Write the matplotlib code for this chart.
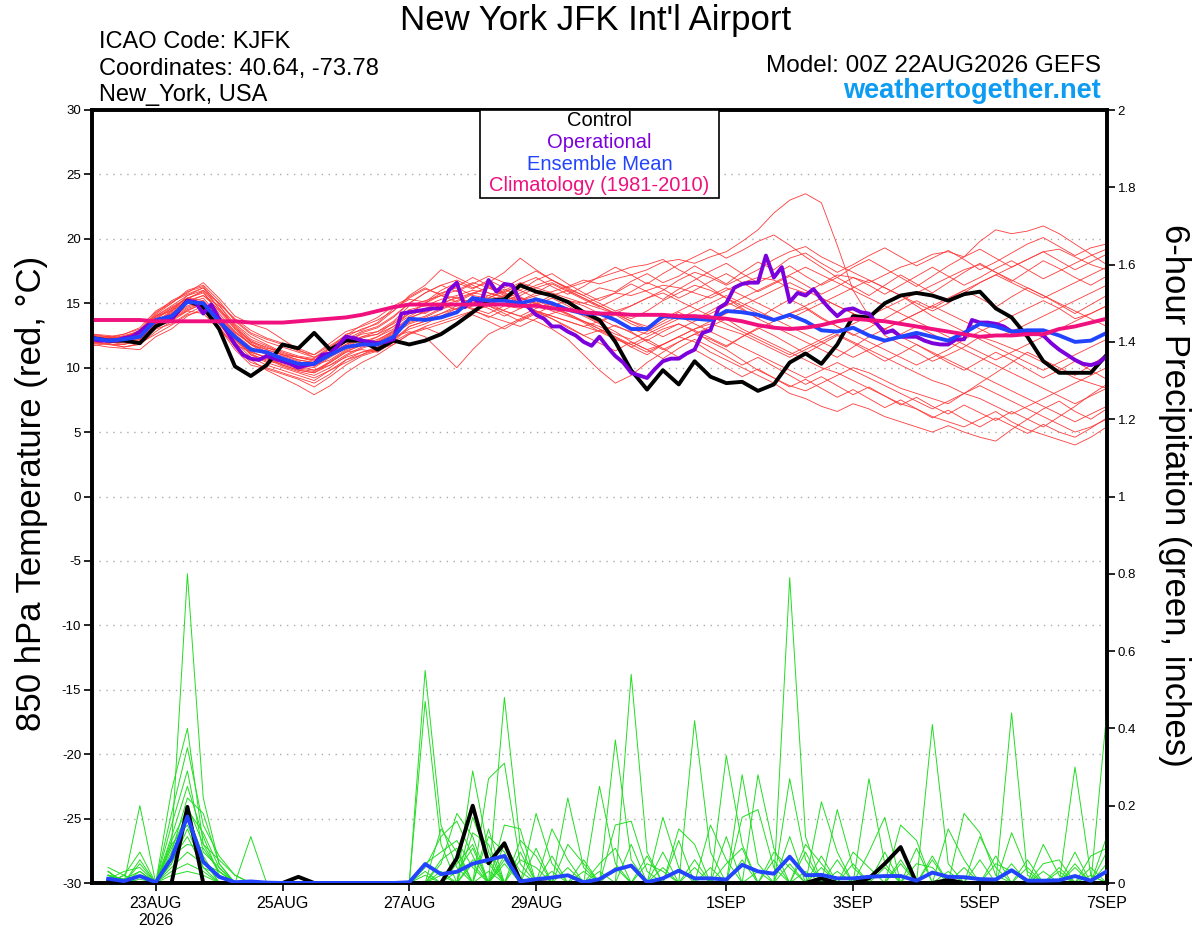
import numpy as np
import matplotlib
matplotlib.use("Agg")
import matplotlib.pyplot as plt
from matplotlib.patches import Rectangle

plt.rcParams["font.family"] = ["Liberation Sans", "DejaVu Sans"]
plt.rcParams["axes.unicode_minus"] = False

# x = days after 00Z 22AUG2026, 6-hourly (temperature) / 3-hourly (operational)
date_ticks = [1, 3, 5, 7, 10, 12, 14, 16]
date_labels = ["23AUG\n2026", "25AUG", "27AUG", "29AUG", "1SEP", "3SEP", "5SEP", "7SEP"]

# 850 hPa temperature (C), 6-hourly from 00Z 22AUG
control_t = [12.3, 12.1, 12.1, 11.9, 13.2, 13.8, 15.2, 14.7, 13.0, 10.1, 9.35, 10.2, 11.8,
             11.5, 12.7, 11.4, 12.1, 12.1, 11.4, 12.1, 11.8, 12.1, 12.6, 13.4, 14.3, 15.2,
             15.3, 16.4, 15.9, 15.6, 15.1, 14.3, 13.7, 12.0, 9.8, 8.3, 9.8, 8.7, 10.5,
             9.3, 8.8, 8.9, 8.2, 8.7, 10.4, 11.1, 10.3, 11.8, 14.0, 13.9, 15.0, 15.6,
             15.8, 15.6, 15.2, 15.7, 15.9, 14.6, 13.9, 12.4, 10.5, 9.6, 9.6, 9.6, 11.0]
mean_t = [12.3, 12.1, 12.2, 12.4, 13.7, 14.0, 15.1, 15.0, 13.6, 12.4, 11.4, 11.2, 10.7,
          10.3, 10.3, 11.0, 11.6, 11.8, 11.8, 12.4, 13.8, 13.7, 13.9, 14.3, 15.4, 15.2,
          15.2, 15.0, 15.3, 15.0, 14.5, 14.2, 14.2, 13.7, 13.0, 13.0, 14.0, 13.9, 13.8,
          13.7, 14.4, 14.3, 14.1, 13.7, 14.1, 13.6, 12.9, 12.8, 13.1, 12.5, 12.1, 12.4,
          12.7, 12.4, 12.1, 12.7, 13.4, 13.2, 12.8, 12.9, 12.9, 12.5, 12.0, 12.1, 12.7]
clim_t = [13.7, 13.7, 13.7, 13.7, 13.6, 13.6, 13.6, 13.6, 13.6, 13.6, 13.5, 13.5, 13.5,
          13.6, 13.7, 13.8, 13.9, 14.1, 14.4, 14.7, 14.9, 14.9, 14.9, 14.9, 14.9, 14.9,
          14.9, 14.8, 14.8, 14.6, 14.5, 14.3, 14.2, 14.2, 14.1, 14.1, 14.1, 14.0, 14.0,
          13.9, 13.8, 13.6, 13.3, 13.1, 13.0, 13.1, 13.3, 13.6, 13.8, 13.7, 13.6, 13.4,
          13.2, 13.0, 12.8, 12.6, 12.4, 12.5, 12.5, 12.6, 12.6, 13.0, 13.2, 13.5, 13.8]
# operational run, 3-hourly
oper_t = [12.2, 12.1, 12.1, 12.1, 12.3, 12.4, 12.8, 13.3, 13.6, 13.7, 13.8, 14.5, 15.2, 15.1, 14.2, 14.9,
          13.8, 12.8, 11.8, 11.0, 10.7, 10.6, 10.9, 10.7, 10.5, 10.3, 10.0, 10.2, 10.3, 11.0, 11.1, 11.7,
          12.4, 12.3, 12.1, 12.0, 11.9, 12.0, 12.2, 14.2, 14.3, 14.4, 14.5, 14.6, 14.6, 16.0, 16.6, 14.7,
          15.4, 15.0, 16.8, 15.9, 16.5, 16.4, 15.1, 14.7, 14.1, 13.8, 13.2, 13.2, 12.8, 12.5, 12.0, 11.7,
          12.4, 11.6, 10.9, 10.4, 9.6, 9.4, 9.2, 9.9, 10.5, 10.7, 10.7, 11.1, 11.4, 12.7, 12.9, 14.6,
          15.0, 16.2, 16.5, 16.6, 16.6, 18.7, 17.0, 17.8, 15.1, 15.8, 15.6, 16.1, 15.3, 14.6, 14.0, 14.5,
          14.6, 14.3, 14.2, 13.4, 12.7, 12.9, 12.4, 12.4, 12.4, 12.1, 11.9, 11.8, 11.8, 12.2, 12.2, 13.7,
          13.5, 13.5, 13.4, 13.2, 12.8, 12.8, 12.8, 12.7, 12.5, 11.9, 11.4, 11.0, 10.6, 10.3, 10.2, 10.4,
          10.9]

# ensemble members (red)
t_m01 = [12.0, 11.9, 12.1, 12.6, 13.9, 14.6, 15.4, 15.9, 14.2, 12.8, 11.8, 11.0, 10.6,
         10.2, 10.0, 10.8, 11.5, 12.0, 12.4, 13.0, 14.5, 14.8, 15.3, 15.6, 16.0, 15.8,
         15.5, 15.2, 15.6, 15.9, 16.3, 16.8, 16.5, 16.9, 17.2, 17.6, 18.2, 18.4, 18.1,
         18.6, 19.0, 19.8, 20.7, 22.0, 23.0, 23.5, 22.8, 19.5, 16.0, 14.0, 12.5, 11.8,
         11.2, 10.5, 11.0, 11.6, 12.4, 12.0, 11.5, 11.0, 10.4, 9.8, 9.2, 8.8, 8.4]
t_m02 = [12.4, 12.2, 12.0, 12.3, 13.5, 14.2, 15.0, 14.6, 13.2, 11.6, 10.4, 10.0, 9.6,
         9.2, 8.8, 9.5, 10.6, 11.2, 11.6, 12.2, 13.0, 13.4, 14.0, 14.6, 15.0, 15.2,
         14.8, 14.6, 15.0, 14.6, 14.2, 13.6, 13.0, 12.4, 11.6, 11.0, 11.8, 12.4, 12.0,
         11.2, 10.6, 10.0, 9.4, 8.8, 8.0, 7.6, 7.0, 6.6, 7.2, 6.8, 6.2, 5.8,
         5.4, 5.0, 5.5, 5.0, 4.6, 4.3, 5.2, 6.0, 6.8, 7.4, 6.6, 6.0, 6.8]
t_m03 = [12.1, 12.0, 12.3, 12.5, 14.0, 14.8, 15.6, 16.2, 14.6, 13.2, 12.0, 11.6, 11.0,
         10.6, 10.4, 11.2, 12.0, 12.6, 12.8, 13.4, 14.2, 15.0, 15.8, 16.2, 15.6, 15.4,
         15.9, 16.4, 16.0, 15.6, 15.2, 15.0, 15.4, 15.8, 15.6, 16.0, 16.4, 16.2, 15.8,
         15.4, 16.0, 16.6, 17.0, 16.8, 16.2, 15.8, 16.5, 17.2, 17.0, 16.6, 17.2, 17.8,
         18.2, 18.8, 19.0, 18.6, 19.8, 20.7, 20.4, 20.6, 21.0, 20.4, 19.6, 18.8, 18.0]
t_m04 = [12.5, 12.4, 12.2, 12.6, 13.2, 13.8, 14.4, 14.2, 13.0, 11.8, 11.2, 10.8, 10.2,
         9.8, 9.6, 10.4, 11.2, 11.4, 11.2, 12.0, 13.2, 13.6, 14.2, 14.8, 15.4, 15.0,
         14.4, 14.0, 13.6, 13.0, 12.2, 11.0, 9.8, 8.8, 9.4, 10.4, 11.2, 12.0, 12.6,
         12.2, 11.6, 12.4, 13.0, 13.6, 14.2, 14.6, 13.8, 13.2, 12.6, 12.0, 11.4, 10.8,
         10.2, 10.8, 11.4, 12.2, 12.8, 13.4, 14.0, 14.6, 15.2, 14.6, 13.8, 14.2, 14.8]
t_m05 = [12.0, 11.8, 11.6, 11.8, 12.8, 13.6, 14.4, 15.0, 13.8, 12.4, 11.0, 10.4, 10.0,
         9.6, 9.2, 9.8, 10.6, 11.0, 11.6, 12.4, 12.8, 12.4, 11.2, 10.0, 11.4, 12.6,
         13.2, 13.8, 14.4, 14.0, 13.6, 13.2, 12.8, 12.2, 11.8, 12.4, 13.0, 13.4, 12.8,
         12.0, 11.4, 10.6, 9.8, 9.2, 8.6, 8.2, 8.8, 9.4, 10.0, 9.6, 9.0, 8.4,
         8.0, 7.6, 7.2, 8.0, 8.8, 9.6, 10.4, 11.2, 10.6, 10.0, 9.4, 10.2, 11.0]
t_m06 = [12.2, 12.3, 12.4, 12.8, 14.2, 15.2, 15.8, 16.6, 15.4, 14.0, 13.4, 13.0, 12.2,
         11.4, 10.8, 11.4, 12.2, 12.8, 13.2, 14.0, 15.0, 15.8, 16.4, 16.8, 16.2, 16.6,
         17.4, 18.5, 17.6, 16.8, 16.2, 16.6, 17.0, 17.4, 17.8, 18.0, 18.4, 17.6, 17.0,
         16.2, 15.4, 14.6, 13.8, 13.2, 12.6, 12.0, 11.4, 10.8, 11.6, 12.4, 13.0, 13.6,
         14.2, 14.8, 14.2, 13.6, 13.0, 12.4, 12.8, 13.4, 14.0, 14.6, 15.2, 15.8, 16.4]
t_m07 = [11.8, 11.6, 11.5, 11.4, 12.4, 13.0, 14.0, 14.6, 13.4, 11.8, 10.6, 9.8, 9.2,
         8.6, 7.9, 8.6, 9.6, 10.4, 11.0, 11.8, 12.6, 13.2, 13.6, 14.0, 14.4, 14.0,
         13.6, 13.2, 13.8, 14.2, 14.6, 14.2, 13.8, 13.2, 12.8, 12.0, 11.4, 12.0, 12.6,
         13.2, 13.8, 13.0, 12.4, 11.8, 11.2, 10.6, 10.0, 9.6, 9.0, 8.4, 7.8, 7.2,
         6.8, 6.2, 5.8, 5.4, 6.0, 6.6, 5.8, 5.2, 4.8, 4.4, 4.0, 4.6, 5.4]
t_m08 = [12.6, 12.5, 12.3, 12.9, 14.3, 15.0, 16.0, 16.4, 15.2, 13.6, 12.6, 12.0, 11.6,
         11.2, 10.8, 11.6, 12.4, 13.0, 13.4, 14.4, 15.6, 16.4, 17.6, 17.0, 16.4, 15.8,
         15.4, 15.8, 16.4, 16.8, 16.2, 15.6, 15.0, 14.4, 14.8, 15.4, 16.0, 16.8, 17.4,
         17.0, 16.4, 17.0, 17.6, 18.4, 19.0, 19.4, 18.6, 18.0, 17.4, 16.8, 16.2, 15.6,
         15.0, 14.4, 15.0, 15.8, 16.6, 17.2, 17.8, 18.4, 19.0, 19.2, 18.6, 18.0, 17.6]
t_m09 = [12.3, 12.1, 11.9, 12.0, 13.0, 13.4, 14.2, 14.8, 13.6, 12.2, 11.0, 10.6, 10.4,
         10.2, 9.8, 10.2, 10.8, 11.2, 11.4, 11.8, 12.6, 13.0, 13.4, 13.8, 14.4, 14.8,
         14.4, 14.0, 14.6, 15.0, 14.6, 14.0, 13.4, 12.8, 12.0, 11.4, 11.8, 12.4, 13.0,
         13.4, 13.0, 12.6, 12.0, 11.4, 10.8, 11.4, 12.0, 12.6, 12.0, 11.4, 10.8, 10.2,
         9.6, 9.0, 8.6, 8.0, 7.6, 7.0, 6.4, 7.0, 7.6, 8.2, 8.8, 9.4, 10.0]
t_m10 = [12.2, 12.4, 12.6, 13.0, 14.0, 14.4, 15.2, 15.6, 14.8, 13.4, 12.4, 11.8, 11.2,
         10.8, 10.6, 11.0, 11.6, 12.2, 12.0, 12.8, 13.8, 14.4, 14.8, 15.2, 15.8, 16.2,
         15.8, 15.4, 15.0, 15.6, 16.0, 15.4, 14.8, 14.2, 13.6, 13.2, 13.8, 14.4, 15.0,
         15.6, 16.2, 15.6, 15.0, 14.4, 13.8, 14.4, 15.0, 15.6, 16.2, 16.8, 16.2, 15.6,
         14.8, 14.0, 13.4, 12.8, 12.2, 11.6, 11.0, 10.4, 9.8, 10.4, 11.0, 11.6, 12.2]
t_m11 = [12.0, 12.1, 12.0, 12.2, 13.4, 14.0, 14.8, 15.2, 13.8, 12.6, 11.6, 11.0, 10.8,
         10.4, 10.2, 10.6, 11.4, 11.8, 12.2, 12.8, 13.6, 14.0, 14.6, 15.0, 14.6, 14.2,
         14.8, 15.4, 15.0, 14.4, 14.0, 13.6, 13.2, 12.6, 12.2, 12.8, 13.4, 14.0, 13.4,
         12.8, 12.2, 11.6, 11.0, 10.4, 9.8, 9.2, 9.8, 10.4, 9.8, 9.2, 8.6, 8.0,
         7.4, 6.8, 7.4, 8.0, 8.6, 8.0, 7.4, 6.8, 6.2, 5.6, 5.0, 5.4, 6.0]
t_m12 = [12.4, 12.3, 12.4, 12.7, 13.8, 14.6, 15.4, 15.8, 14.4, 13.0, 12.0, 11.4, 11.0,
         10.8, 10.6, 11.2, 11.8, 12.4, 12.8, 13.6, 14.8, 15.2, 15.6, 15.4, 15.0, 15.4,
         16.0, 16.6, 16.2, 15.8, 15.4, 15.0, 14.6, 14.2, 13.8, 14.4, 15.2, 15.8, 16.4,
         16.0, 15.4, 14.8, 14.2, 13.6, 14.2, 14.8, 15.4, 14.8, 14.2, 13.6, 13.0, 13.6,
         14.2, 14.8, 15.4, 16.0, 16.6, 17.2, 16.6, 16.0, 15.4, 16.0, 16.6, 17.2, 17.8]
t_m13 = [11.9, 11.8, 11.8, 12.1, 13.1, 13.8, 14.6, 15.0, 13.6, 12.2, 11.2, 10.8, 10.2,
         9.8, 9.6, 10.2, 11.0, 11.6, 12.0, 12.6, 13.4, 13.8, 14.2, 14.6, 15.2, 14.8,
         14.2, 13.6, 14.2, 14.8, 15.2, 14.8, 14.2, 13.6, 13.0, 12.6, 13.2, 13.8, 14.4,
         15.0, 15.6, 15.0, 14.4, 13.8, 13.2, 12.6, 12.0, 11.4, 10.8, 11.4, 12.0, 12.6,
         13.2, 12.6, 12.0, 11.4, 10.8, 10.2, 9.6, 9.0, 8.4, 7.8, 7.2, 7.8, 8.4]
t_m14 = [12.2, 12.0, 12.2, 12.4, 13.6, 14.2, 15.0, 15.4, 14.0, 12.8, 11.8, 11.2, 10.6,
         10.0, 9.8, 10.4, 11.2, 11.8, 12.4, 13.2, 14.2, 15.0, 15.6, 16.0, 16.6, 16.2,
         15.6, 15.0, 14.4, 14.0, 13.6, 13.2, 13.6, 14.2, 14.8, 15.4, 15.8, 15.2, 14.6,
         14.0, 13.4, 12.8, 12.2, 11.6, 11.0, 11.6, 12.2, 12.8, 13.4, 14.0, 14.6, 15.2,
         15.8, 16.4, 17.0, 17.6, 18.0, 17.4, 16.8, 16.2, 15.6, 15.0, 14.4, 13.8, 13.2]
t_m15 = [12.6, 12.4, 12.2, 12.4, 13.4, 14.4, 15.2, 15.0, 13.4, 12.0, 10.8, 10.2, 9.8,
         9.4, 9.0, 9.8, 10.4, 11.0, 11.4, 12.2, 13.2, 13.6, 14.0, 14.4, 14.8, 15.2,
         15.6, 16.0, 15.4, 14.8, 14.2, 13.6, 13.0, 12.4, 11.8, 11.2, 11.8, 12.4, 13.0,
         13.6, 14.2, 14.8, 15.4, 16.0, 16.6, 16.0, 15.4, 14.8, 14.2, 13.6, 13.0, 12.4,
         11.8, 11.2, 10.6, 10.0, 9.4, 8.8, 8.2, 7.6, 7.0, 6.4, 5.8, 6.4, 7.0]
t_m16 = [12.1, 12.2, 12.3, 12.6, 13.6, 14.4, 15.6, 16.0, 14.6, 13.0, 11.8, 11.4, 11.0,
         10.6, 10.4, 11.0, 11.8, 12.4, 12.6, 13.2, 14.0, 14.6, 15.0, 15.4, 15.8, 15.6,
         15.2, 15.6, 16.2, 16.6, 16.0, 15.4, 14.8, 14.2, 13.6, 13.0, 12.4, 13.0, 13.6,
         14.2, 14.8, 15.4, 16.0, 16.6, 17.2, 17.8, 17.2, 16.6, 16.0, 15.4, 14.8, 14.2,
         13.6, 13.0, 12.4, 11.8, 11.2, 10.6, 11.2, 11.8, 12.4, 13.0, 13.6, 14.2, 14.8]
t_m17 = [12.3, 12.0, 12.4, 12.9, 14.1, 15.0, 15.9, 16.3, 14.9, 13.1, 12.1, 11.5, 11.3,
         10.9, 10.7, 11.5, 12.6, 12.9, 13.5, 14.6, 15.3, 15.1, 16.0, 16.6, 16.1, 16.8,
         16.2, 16.9, 17.5, 16.8, 16.1, 15.6, 16.2, 15.9, 16.7, 17.3, 16.6, 17.1, 17.9,
         17.2, 16.5, 17.4, 18.2, 17.6, 18.5, 18.9, 18.1, 17.4, 18.0, 18.7, 19.3, 18.6,
         17.9, 18.5, 19.1, 18.4, 17.6, 18.2, 18.9, 19.6, 20.1, 19.4, 18.7, 19.3, 19.6]
t_m18 = [12.1, 12.2, 12.0, 12.5, 13.5, 14.3, 15.1, 15.6, 14.5, 13.3, 12.2, 11.7, 11.1,
         10.8, 10.5, 11.1, 12.0, 12.7, 13.1, 13.9, 15.0, 15.8, 16.4, 15.9, 16.5, 17.1,
         16.6, 16.0, 16.8, 17.3, 16.5, 15.8, 15.2, 15.8, 16.5, 15.9, 15.3, 16.1, 16.8,
         17.5, 18.1, 17.3, 16.6, 17.2, 17.9, 17.1, 16.4, 17.0, 17.8, 18.4, 17.7, 17.0,
         16.3, 17.1, 17.9, 18.6, 19.2, 18.5, 17.8, 18.4, 19.0, 18.3, 17.6, 18.2, 18.8]
t_m19 = [11.7, 11.9, 11.6, 11.9, 12.6, 13.3, 14.1, 14.4, 13.1, 11.4, 10.2, 9.9, 9.5,
         9.1, 8.5, 9.3, 10.2, 10.9, 11.3, 12.0, 12.7, 13.1, 12.6, 13.4, 14.1, 13.6,
         13.0, 13.7, 14.3, 13.8, 13.2, 12.5, 11.9, 11.3, 12.0, 11.4, 10.7, 11.5, 12.2,
         11.6, 10.9, 10.2, 10.8, 10.1, 9.4, 8.7, 9.3, 8.6, 7.9, 8.5, 7.8, 7.1,
         7.7, 7.0, 6.4, 7.1, 6.5, 5.9, 6.6, 6.0, 5.4, 6.2, 7.0, 7.9, 8.7]
t_m20 = [12.4, 12.2, 12.5, 12.8, 14.0, 14.7, 15.4, 15.2, 13.9, 12.7, 11.9, 11.2, 10.9,
         10.5, 10.1, 10.9, 11.7, 12.3, 12.6, 13.5, 14.5, 14.2, 14.9, 15.5, 15.0, 15.6,
         16.1, 15.5, 14.9, 15.4, 14.8, 14.1, 13.5, 14.1, 13.4, 12.9, 13.6, 14.3, 13.7,
         14.4, 15.1, 14.5, 13.8, 14.6, 15.3, 14.7, 13.9, 13.2, 12.5, 13.1, 13.8, 14.5,
         15.2, 14.6, 15.3, 16.0, 15.4, 14.7, 15.5, 16.2, 15.6, 14.9, 14.2, 14.9, 15.6]
t_m21 = [12.0, 12.3, 12.2, 12.7, 13.8, 14.5, 15.3, 16.0, 15.0, 13.8, 12.9, 12.3, 11.9,
         11.5, 11.0, 11.7, 12.5, 13.3, 13.9, 14.8, 15.4, 16.1, 15.7, 16.3, 17.0, 16.4,
         15.8, 16.5, 17.0, 16.3, 15.7, 16.3, 17.1, 17.8, 17.2, 16.5, 17.3, 18.0, 18.6,
         19.2, 18.5, 19.1, 19.8, 20.3, 19.5, 18.6, 17.8, 17.0, 16.3, 15.6, 16.4, 17.2,
         16.5, 15.8, 16.6, 17.4, 18.1, 17.4, 16.7, 17.5, 18.3, 17.7, 17.0, 16.4, 17.1]
t_m22 = [12.2, 12.0, 11.8, 12.2, 13.3, 13.9, 14.7, 15.1, 13.7, 12.3, 11.3, 10.7, 10.1,
         9.7, 9.4, 10.0, 10.9, 11.5, 11.9, 12.7, 13.5, 13.9, 14.5, 15.0, 14.5, 13.9,
         14.5, 15.1, 14.4, 13.8, 13.1, 12.5, 12.9, 12.3, 11.6, 12.2, 11.5, 10.8, 11.4,
         10.7, 10.0, 9.3, 9.9, 9.2, 8.5, 9.1, 8.4, 7.7, 8.3, 7.6, 6.9, 7.5,
         6.8, 6.1, 6.7, 6.0, 5.4, 6.1, 5.5, 4.9, 5.6, 5.0, 4.6, 5.3, 6.1]
t_m23 = [12.5, 12.3, 12.6, 13.1, 14.4, 15.1, 15.7, 16.2, 15.0, 13.7, 12.7, 12.2, 11.8,
         11.3, 11.0, 11.9, 12.8, 13.2, 13.7, 14.4, 15.5, 16.2, 15.6, 15.1, 15.7, 16.3,
         15.7, 15.2, 15.8, 16.5, 15.9, 15.3, 14.7, 15.3, 15.9, 16.6, 16.1, 15.4, 16.0,
         16.7, 17.3, 16.6, 15.9, 16.5, 17.1, 16.4, 15.7, 16.3, 17.0, 16.4, 15.7, 16.4,
         17.1, 17.8, 17.1, 16.4, 17.0, 17.7, 18.3, 17.6, 16.9, 17.5, 18.1, 18.7, 19.2]
t_m24 = [11.9, 12.1, 12.0, 12.3, 13.2, 13.7, 14.5, 14.9, 13.5, 12.1, 11.1, 10.5, 10.3,
         9.9, 9.7, 10.5, 11.3, 11.7, 12.1, 12.9, 13.9, 14.3, 14.9, 14.5, 15.1, 14.6,
         14.0, 14.6, 15.2, 14.7, 14.1, 13.5, 12.8, 13.3, 12.7, 12.1, 12.8, 13.4, 12.9,
         12.3, 11.7, 12.4, 13.1, 12.5, 11.8, 11.1, 11.8, 12.5, 11.9, 11.2, 10.5, 11.1,
         11.8, 11.1, 10.4, 9.8, 10.5, 11.2, 10.6, 9.9, 9.2, 9.8, 10.5, 9.8, 9.1]
temp_members = [t_m01, t_m02, t_m03, t_m04, t_m05, t_m06, t_m07, t_m08,
                t_m09, t_m10, t_m11, t_m12, t_m13, t_m14, t_m15, t_m16,
                t_m17, t_m18, t_m19, t_m20, t_m21, t_m22, t_m23, t_m24]

# 6-hour precipitation (inches), valid 06Z 22AUG .. 00Z 7SEP
control_p = [.003, 0, 0, 0, 0, .197, 0, 0, 0, 0, 0, 0, .016, 0, 0, 0,
             0, 0, 0, 0, 0, 0, .064, .20, .051, .103, .006, .003, 0, 0, 0, 0,
             0, 0, 0, 0, 0, 0, 0, 0, 0, 0, 0, 0, 0, .012, 0, 0,
             .012, .05, .093, 0, 0, .008, 0, 0, 0, 0, 0, 0, 0, 0, 0, 0]
mean_p = [.011, .005, .018, .002, .064, .172, .055, .016, .002, .004, .001, 0, 0, 0, 0, 0,
          0, 0, 0, .002, .049, .023, .029, .05, .06, .07, .004, .01, .014, .02, .002, .01,
          .034, .045, .002, .012, .032, .012, .012, .009, .047, .03, .024, .068, .02, .021, .012, .012,
          .016, .018, .018, .006, .027, .016, .015, .01, .009, .033, .006, .006, .007, .018, .006, .03]
p_m01 = [.02, .01, .03, 0, .10, .80, .22, .05, 0, 0, 0, 0, 0, 0, 0, 0,
         0, 0, 0, 0, .55, .15, .04, 0, 0, .10, .03, 0, 0, 0, 0, 0,
         .37, .06, 0, 0, 0, 0, 0, 0, 0, 0, 0, .79, .12, 0, 0, 0,
         0, 0, 0, 0, .06, 0, 0, 0, 0, .44, .02, 0, 0, 0, 0, .05]
p_m02 = [.03, 0, .20, 0, .24, .40, .10, .03, 0, .12, 0, 0, 0, 0, 0, 0,
         0, 0, 0, 0, .47, .10, 0, .29, .08, 0, 0, 0, 0, .22, .04, 0,
         0, 0, 0, 0, 0, .42, .08, 0, .28, .05, 0, 0, 0, 0, 0, 0,
         .27, .05, 0, 0, 0, 0, 0, 0, 0, 0, 0, 0, 0, .30, .02, 0]
p_m03 = [.04, .02, .08, 0, .18, .35, .15, .07, .02, 0, 0, 0, 0, 0, 0, 0,
         0, 0, 0, 0, 0, .05, .18, .12, 0, .48, .10, 0, 0, 0, 0, 0,
         0, .54, .08, 0, 0, 0, 0, .33, .10, 0, 0, .27, .06, 0, 0, 0,
         0, 0, 0, 0, .41, .05, 0, 0, 0, 0, 0, 0, 0, 0, 0, .44]
p_m04 = [.01, .03, .04, 0, .15, .29, .08, .04, 0, 0, 0, 0, 0, 0, 0, 0,
         0, 0, 0, 0, 0, 0, .06, 0, .27, .31, .05, 0, 0, 0, 0, .25,
         .05, 0, 0, 0, 0, 0, 0, 0, 0, .28, .09, 0, 0, .21, .08, 0,
         0, 0, 0, 0, 0, 0, .18, .13, .02, 0, 0, 0, 0, 0, 0, 0]
p_m05 = [.03, 0, .02, 0, .12, .25, .12, .02, 0, 0, 0, 0, 0, 0, 0, 0,
         0, 0, 0, 0, 0, 0, 0, .17, .06, 0, 0, .18, .05, 0, 0, 0,
         0, 0, 0, .17, .04, 0, 0, 0, 0, 0, 0, .12, 0, 0, .19, .04,
         0, 0, .15, .11, 0, 0, 0, 0, 0, 0, 0, .10, .02, 0, 0, 0]
p_m06 = [.02, .01, 0, 0, .08, .22, .18, .05, 0, 0, 0, 0, 0, 0, 0, 0,
         0, 0, 0, 0, 0, .14, .08, 0, 0, .15, .14, 0, 0, 0, 0, 0,
         .15, .16, .03, 0, 0, 0, 0, 0, .17, .19, .04, 0, 0, 0, 0, 0,
         .08, .17, 0, 0, 0, 0, 0, 0, 0, .13, .03, 0, 0, 0, 0, .12]
p_m07 = [.01, 0, .05, 0, .05, .20, .10, .06, .02, 0, 0, 0, 0, 0, 0, 0,
         0, 0, 0, 0, 0, 0, 0, .13, .10, 0, 0, 0, .14, .06, 0, 0,
         0, 0, 0, 0, .14, .10, 0, 0, 0, 0, 0, 0, .10, .05, 0, 0,
         0, 0, 0, 0, 0, .14, .06, 0, 0, 0, 0, 0, 0, .08, 0, 0]
p_m08 = [.02, .01, 0, 0, .10, .15, .06, 0, 0, 0, 0, 0, 0, 0, 0, 0,
         0, 0, 0, 0, .05, .08, .11, .04, 0, 0, 0, 0, 0, .10, .05, 0,
         0, 0, 0, 0, 0, 0, .15, .06, 0, 0, 0, 0, 0, 0, 0, .08,
         .04, 0, 0, 0, 0, 0, 0, .12, .04, 0, 0, 0, 0, 0, .07, .09]
p_m09 = [.01, 0, 0, 0, .06, .12, .04, .02, 0, 0, 0, 0, 0, 0, 0, 0,
         0, 0, 0, 0, 0, 0, 0, 0, .12, .08, 0, 0, 0, 0, 0, .05,
         .09, 0, 0, 0, 0, 0, 0, .05, .09, 0, 0, 0, 0, 0, .06, 0,
         0, 0, 0, .05, .04, 0, 0, 0, 0, 0, 0, .05, .06, 0, 0, 0]
p_m10 = [.02, 0, .01, 0, .04, .08, .05, .03, 0, 0, 0, 0, 0, 0, 0, 0,
         0, 0, 0, 0, 0, 0, .03, .09, 0, 0, .06, .04, 0, 0, 0, 0,
         0, 0, .05, .03, 0, 0, 0, 0, 0, 0, .08, .04, 0, 0, 0, 0,
         0, .04, 0, 0, 0, 0, 0, 0, .05, .03, 0, 0, 0, .04, 0, 0]
p_m11 = [0, .02, 0, 0, .03, .05, .03, 0, 0, 0, 0, 0, 0, 0, 0, 0,
         0, 0, 0, 0, 0, .02, 0, .05, 0, .07, 0, 0, 0, 0, .03, 0,
         0, .10, 0, 0, 0, .04, 0, 0, 0, 0, 0, 0, .03, 0, 0, 0,
         0, 0, .06, 0, 0, 0, 0, 0, 0, 0, .04, 0, 0, 0, .02, 0]
p_m12 = [.02, 0, 0, 0, .02, .03, .02, 0, 0, 0, 0, 0, 0, 0, 0, 0,
         0, 0, 0, 0, .03, 0, 0, 0, .03, 0, 0, 0, .03, 0, 0, 0,
         0, 0, 0, .04, 0, 0, 0, 0, 0, .03, 0, 0, 0, .04, 0, 0,
         0, 0, 0, 0, 0, .03, 0, 0, 0, 0, 0, 0, .03, 0, 0, .03]
p_m13 = [.03, 0, .06, 0, .09, .18, .07, 0, 0, 0, 0, 0, 0, 0, 0, 0,
         0, 0, 0, 0, .04, .12, .16, .07, 0, .05, 0, .09, 0, 0, .06, 0,
         0, 0, 0, 0, .11, 0, .04, 0, 0, 0, 0, 0, .08, 0, 0, 0,
         0, 0, 0, .09, 0, 0, 0, 0, .07, 0, 0, 0, 0, .05, 0, 0]
p_m14 = [0, .02, 0, 0, .07, .10, .09, .03, 0, 0, 0, 0, 0, 0, 0, 0,
         0, 0, 0, 0, 0, .06, .09, 0, .14, 0, .08, 0, 0, .04, 0, 0,
         0, 0, .07, 0, 0, 0, 0, .12, 0, 0, .06, 0, 0, 0, 0, .05,
         0, .08, 0, 0, 0, 0, .04, 0, 0, 0, .06, 0, 0, 0, 0, .08]
p_m15 = [.01, 0, .03, 0, .05, .14, .04, 0, 0, 0, 0, 0, 0, 0, 0, 0,
         0, 0, 0, 0, .02, 0, .05, .10, 0, .06, 0, 0, .07, 0, 0, 0,
         .04, 0, 0, 0, 0, .06, 0, 0, 0, 0, 0, .05, 0, 0, .03, 0,
         0, 0, 0, 0, .07, 0, 0, 0, 0, .05, 0, 0, .04, 0, 0, 0]
p_m16 = [.02, 0, 0, 0, .11, .19, .13, .04, 0, 0, 0, 0, 0, 0, 0, 0,
         0, 0, 0, 0, 0, .03, 0, .06, .05, 0, .11, .07, 0, 0, 0, .03,
         0, 0, 0, .08, 0, 0, 0, 0, .06, 0, 0, 0, 0, .07, 0, 0,
         0, 0, .05, 0, 0, 0, 0, .06, 0, 0, 0, .03, 0, 0, .04, 0]
precip_members = [p_m01, p_m02, p_m03, p_m04, p_m05, p_m06, p_m07, p_m08,
                  p_m09, p_m10, p_m11, p_m12, p_m13, p_m14, p_m15, p_m16]

# colours
red = "#ff3a3a"
green = "#22dd22"
purple = "#7c00dc"
blue = "#2244ff"
pink = "#f0107e"

fig = plt.figure(figsize=(12, 9.27), dpi=100)
ax = fig.add_axes([92.3 / 1200, 44 / 927, 1014.4 / 1200, 773 / 927])
ax2 = ax.twinx()

t6 = np.arange(len(control_t)) * 0.25
t3 = np.arange(len(oper_t)) * 0.125
tp = np.arange(1, len(mean_p) + 1) * 0.25

# temperature
for m in temp_members:
    ax.plot(t6[:len(m)], m, color=red, lw=0.6, zorder=2)
ax.plot(t6, control_t, color="black", lw=2.8, zorder=4)
ax.plot(t3, oper_t, color=purple, lw=2.8, zorder=5)
ax.plot(t6, mean_t, color=blue, lw=2.8, zorder=6)
ax.plot(t6, clim_t, color=pink, lw=2.8, zorder=7)

# precipitation
for m in precip_members:
    ax2.plot(tp[:len(m)], m, color=green, lw=0.7, zorder=2)
ax2.plot(tp, control_p, color="black", lw=2.8, zorder=4)
ax2.plot(tp, mean_p, color=blue, lw=2.8, zorder=5)

ax.set_xlim(0, 16)
ax.set_ylim(-30, 30)
ax2.set_ylim(0, 2)

ax.set_yticks(range(-30, 31, 5))
ax.set_xticks(date_ticks)
ax.set_xticklabels(date_labels)
p_ticks = [0, 0.2, 0.4, 0.6, 0.8, 1, 1.2, 1.4, 1.6, 1.8, 2]
ax2.set_yticks(p_ticks)
ax2.set_yticklabels([f"{v:g}" for v in p_ticks])

ax.tick_params(axis="x", direction="out", length=6, width=1.2, labelsize=11.5, pad=3)
ax.tick_params(axis="y", direction="out", length=6, width=1.2, labelsize=9.5, pad=2)
ax2.tick_params(axis="y", direction="out", length=6, width=1.2, labelsize=9.5, pad=2)

# dotted horizontal grid at the temperature ticks
for v in range(-25, 30, 5):
    ax.axhline(v, color="#aaaaaa", lw=1.0, ls=(0, (1, 4)), zorder=1)

for a in (ax, ax2):
    for s in a.spines.values():
        s.set_linewidth(2.6)

# legend box
ax2.add_patch(Rectangle((0.382, 0.886), 0.236, 0.114, transform=ax2.transAxes,
                        facecolor="white", edgecolor="black", lw=1.2, zorder=20))
leg = [("Control", "black", 0.986), ("Operational", purple, 0.958),
       ("Ensemble Mean", blue, 0.930), ("Climatology (1981-2010)", pink, 0.902)]
for txt, c, y in leg:
    ax2.text(0.5, y, txt, color=c, fontsize=14.5, ha="center", va="center",
             transform=ax2.transAxes, zorder=21)

# headers
fig.text(596 / 1200, 1 - 30 / 927, "New York JFK Int'l Airport", fontsize=25, ha="center", va="baseline")
fig.text(99 / 1200, 1 - 48.5 / 927, "ICAO Code: KJFK", fontsize=17, ha="left", va="baseline")
fig.text(99 / 1200, 1 - 74.5 / 927, "Coordinates: 40.64, -73.78", fontsize=17, ha="left", va="baseline")
fig.text(99 / 1200, 1 - 100.5 / 927, "New_York, USA", fontsize=17, ha="left", va="baseline")
fig.text(1101 / 1200, 1 - 72.5 / 927, "Model: 00Z 22AUG2026 GEFS", fontsize=17.5, ha="right", va="baseline")
fig.text(1101 / 1200, 1 - 97.5 / 927, "weathertogether.net", fontsize=19.5, fontweight="bold",
         color="#0d9cf2", ha="right", va="baseline")

fig.text(32 / 1200, 1 - 493 / 927, "850 hPa Temperature (red, \u00b0C)", fontsize=25,
         rotation=90, ha="center", va="center")
fig.text(1175 / 1200, 1 - 495 / 927, "6-hour Precipitation (green, inches)", fontsize=25,
         rotation=-90, ha="center", va="center")

fig.savefig("out.png", dpi=100)
